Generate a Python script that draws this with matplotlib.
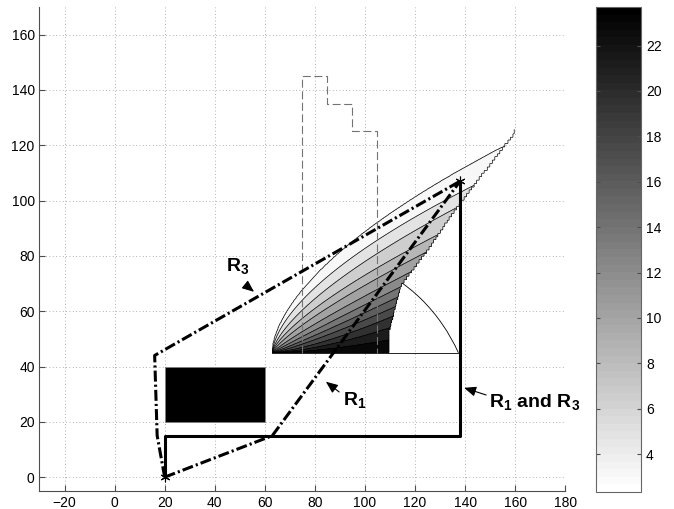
import numpy as np
import matplotlib
matplotlib.use('Agg')
import matplotlib.pyplot as plt
from matplotlib.patches import Rectangle, Arc
from matplotlib.colors import Normalize
from matplotlib.cm import ScalarMappable

plt.rcParams['font.family'] = ['Liberation Sans', 'DejaVu Sans']
plt.rcParams['mathtext.fontset'] = 'custom'
plt.rcParams['mathtext.rm'] = 'Liberation Sans'
plt.rcParams['mathtext.bf'] = 'Liberation Sans:bold'

# paths
r1_x = [20, 63, 138]
r1_y = [0, 15, 107]
r3_x = [20, 17, 16, 138]
r3_y = [0, 15, 44, 107]
both_x = [20, 20, 138, 138]
both_y = [0, 15, 15, 107]
star_x = [20, 138]
star_y = [0, 107]

# obstacle box
box_x, box_y, box_w, box_h = 20, 20, 40, 20

# dashed zone outline
zone_x = [75, 75, 85, 85, 95, 95, 105, 105]
zone_y = [45, 145, 145, 135, 135, 125, 125, 45]

# contour lines, read at x=75 and x=105 (outermost first)
line_y_at_75 = [67.6, 64.0, 60.4, 57.4, 55.0, 52.6, 50.8, 49.3, 48.1, 46.9, 46.1, 45.5]
line_y_at_105 = [92.0, 85.7, 80.9, 75.7, 71.9, 67.9, 64.6, 61.6, 58.8, 55.9, 52.6, 48.9]
line_levels = np.linspace(3, 23, 12)
nose_x = 63
base_y = 45

# right edge of the filled set
edge_x = [109.5, 109.5, 111, 113, 114.5, 125, 134, 144.8, 159.7]
edge_y = [45, 52, 57.4, 64.6, 69.4, 82, 94, 107, 124.3]

# arc
arc_cx, arc_cy, arc_r = 80, 16.5, 64
base_x = [63, 137.3]

cbar_min, cbar_max = 2.33, 23.7
cbar_ticks = list(range(4, 23, 2))

cmap = plt.get_cmap('gray_r', 64)
norm = Normalize(cbar_min, cbar_max)

fig = plt.figure(figsize=(6.74, 5.09), dpi=100)
ax = fig.add_axes([0.0586, 0.0354, 0.780, 0.951])

# build field from the read lines
xs = np.arange(60, 163, 0.25)
ys = np.arange(45, 126, 0.25)
X, Y = np.meshgrid(xs, ys)
u75 = np.array(line_y_at_75) - base_y
u105 = np.array(line_y_at_105) - base_y
q = np.log(u105 / u75) / np.log((105 - nose_x) / (75 - nose_x))
V = np.zeros_like(X)
for j, x in enumerate(xs):
    if x <= nose_x + 0.2:
        continue
    r = (x - nose_x) / (105 - nose_x)
    h = u105 * r ** q
    xp = np.concatenate([[-1.0], h[::-1], [h[0] + 1000]])
    fp = np.concatenate([[25.0], line_levels[::-1], [0.0]])
    V[:, j] = np.interp(ys - base_y, xp, fp)

Yq = np.floor((Y - base_y) / 1.2) * 1.2 + base_y + 0.6
inside = X <= np.interp(Yq, edge_y, edge_x)
Vm = np.ma.masked_where(~inside, V)

band_colors = [cmap(norm(l)) for l in line_levels]
ax.contourf(X, Y, Vm, levels=np.append(line_levels, 25.5), colors=band_colors, zorder=1)
ax.contour(X, Y, Vm, levels=line_levels, colors='k', linewidths=0.5, zorder=1.1)
ind = np.ma.masked_where(V < 2.5, inside.astype(float))
ax.contour(X, Y, ind, levels=[0.5], colors='k', linewidths=0.5, zorder=1.1)

ax.add_patch(Arc((arc_cx, arc_cy), 2 * arc_r, 2 * arc_r, theta1=26.4, theta2=70,
                 color='k', lw=0.6, zorder=0.9))
ax.plot(base_x, [base_y, base_y], color='k', lw=0.6, zorder=1.2)

ax.plot(zone_x, zone_y, color='0.45', lw=0.8, linestyle=(0, (7.2, 3.2)), zorder=2)

ax.add_patch(Rectangle((box_x, box_y), box_w, box_h, facecolor='k', edgecolor='0.5', lw=0.6, zorder=2))

dashdot = (0, (3.6, 1.0, 0.7, 1.0))
ax.plot(r3_x, r3_y, color='k', lw=2.2, linestyle=dashdot, zorder=3)
ax.plot(r1_x, r1_y, color='k', lw=2.2, linestyle=dashdot, zorder=3)
ax.plot(both_x, both_y, color='k', lw=2.2, zorder=3)
ax.plot(star_x, star_y, linestyle='none', marker=(6, 2, 0), markersize=7,
        markeredgewidth=0.8, color='k', zorder=4)

arrow = dict(arrowstyle='-|>,head_length=0.6,head_width=0.25', color='k', lw=0.8,
             shrinkA=0, shrinkB=0, mutation_scale=12)
ax.annotate('', xy=(55.7, 67.0), xytext=(52.4, 69.4), arrowprops=arrow, zorder=5)
ax.annotate('', xy=(84.4, 34.5), xytext=(89.7, 30.8), arrowprops=arrow, zorder=5)
ax.annotate('', xy=(139.6, 32.3), xytext=(148.4, 29.7), arrowprops=arrow, zorder=5)
ax.text(44.4, 74.5, r'$\mathbf{R_3}$', fontsize=14, va='baseline', zorder=5)
ax.text(91.1, 26.0, r'$\mathbf{R_1}$', fontsize=14, va='baseline', zorder=5)
ax.text(149.6, 25.3, r'$\mathbf{R_1}$ and $\mathbf{R_3}$', fontsize=14, fontweight='bold',
        va='baseline', zorder=5, clip_on=False)

ax.set_xlim(-30, 180)
ax.set_ylim(-5, 170)
ax.set_xticks(range(-20, 181, 20))
ax.set_yticks(range(0, 161, 20))
ax.grid(True, linestyle=(0, (1, 3)), color='0.6', lw=0.6)
ax.set_axisbelow(True)
for s in ['top', 'right']:
    ax.spines[s].set_visible(False)
for s in ['left', 'bottom']:
    ax.spines[s].set_color('0.3')
ax.tick_params(direction='in', length=4, color='0.3', labelsize=10)

cax = fig.add_axes([0.884, 0.0334, 0.0672, 0.953])
cb = fig.colorbar(ScalarMappable(norm=norm, cmap=cmap), cax=cax, ticks=cbar_ticks)
cb.outline.set_edgecolor('0.4')
cax.tick_params(direction='in', left=True, right=True, labelleft=False, labelright=True,
                length=3, color='0.3', labelsize=10)

fig.savefig('out.png', dpi=100)
